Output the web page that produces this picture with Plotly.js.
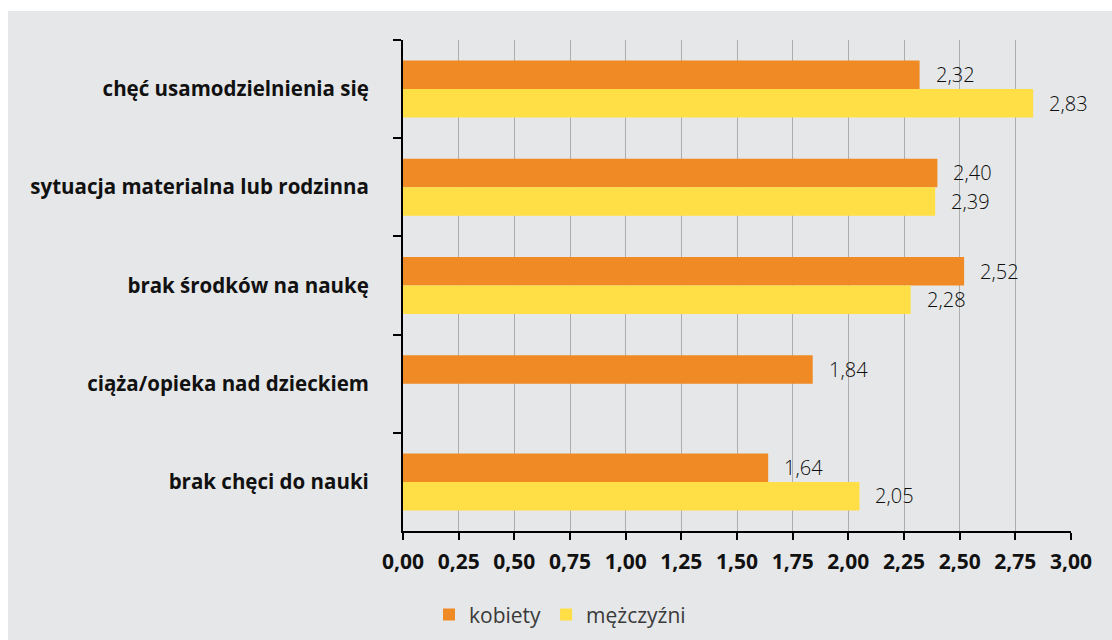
<!DOCTYPE html>
<html>
<head>
<meta charset="utf-8">
<script src="https://cdn.plot.ly/plotly-3.0.1.min.js"></script>
<style>
html,body{margin:0;padding:0;background:#ffffff;}
#chart{position:absolute;left:8px;top:11px;width:1104px;height:629px;}
</style>
</head>
<body>
<div id="chart"></div>
<script>
const categories = [
  "chęć usamodzielnienia się",
  "sytuacja materialna lub rodzinna",
  "brak środków na naukę",
  "ciąża/opieka nad dzieckiem",
  "brak chęci do nauki"
];
const kobiety = [2.32, 2.40, 2.52, 1.84, 1.64];
const mezczyzni = [2.83, 2.39, 2.28, null, 2.05];
const seriesNames = ["kobiety", "mężczyźni"];
const tickVals = [0, 0.25, 0.5, 0.75, 1, 1.25, 1.5, 1.75, 2, 2.25, 2.5, 2.75, 3];

const fmt = v => v.toFixed(2).replace('.', ',');

const traces = [
  {type:'bar', orientation:'h', name:seriesNames[0], y:categories, x:kobiety,
   marker:{color:'#f08a24'}, hoverinfo:'none'},
  {type:'bar', orientation:'h', name:seriesNames[1], y:categories, x:mezczyzni,
   marker:{color:'#ffdf45'}, hoverinfo:'none'}
];

const annotations = [];
[[kobiety, 14.5], [mezczyzni, -14]].forEach(([arr, ys]) => {
  arr.forEach((v, i) => {
    if (v === null) return;
    annotations.push({x:v, y:categories[i], xref:'x', yref:'y', text:fmt(v),
      showarrow:false, xanchor:'left', yanchor:'middle', xshift:14, yshift:ys,
      font:{family:'Open Sans, sans-serif', size:20, color:'#0d0d0d', weight:300}});
  });
});

const layout = {
  width:1104, height:629,
  paper_bgcolor:'#e6e7e8', plot_bgcolor:'#e6e7e8',
  margin:{l:395, r:41, t:29, b:109},
  barmode:'group', bargap:0.42, bargroupgap:0,
  separators:',.',
  showlegend:true,
  legend:{orientation:'h', xref:'container', yref:'container', x:0.5, xanchor:'center',
    y:0.04, yanchor:'middle',
    font:{family:'Open Sans, sans-serif', size:21, color:'#3a3a3a'},
    traceorder:'normal', itemwidth:30, bgcolor:'rgba(0,0,0,0)'},
  xaxis:{range:[0,3], tickvals:tickVals, tickformat:'.2f', automargin:false,
    showgrid:true, gridcolor:'#adadad', gridwidth:1, zeroline:false,
    showline:true, linecolor:'#000', linewidth:2,
    ticks:'outside', ticklen:7, tickwidth:2, tickcolor:'#000',
    ticklabelstandoff:4,
    tickfont:{family:'Open Sans, sans-serif', size:21, color:'#111', weight:'bold'},
    fixedrange:true},
  yaxis:{type:'category', autorange:'reversed', showgrid:false, zeroline:false, automargin:false,
    showline:true, linecolor:'#000', linewidth:2,
    ticks:'outside', tickson:'boundaries', ticklen:8, tickwidth:2, tickcolor:'#000',
    ticklabelstandoff:28,
    tickfont:{family:'Open Sans, sans-serif', size:20.5, color:'#111', weight:'bold'},
    fixedrange:true},
  annotations:annotations
};

Plotly.newPlot('chart', traces, layout, {displayModeBar:false, staticPlot:true});
</script>
</body>
</html>
